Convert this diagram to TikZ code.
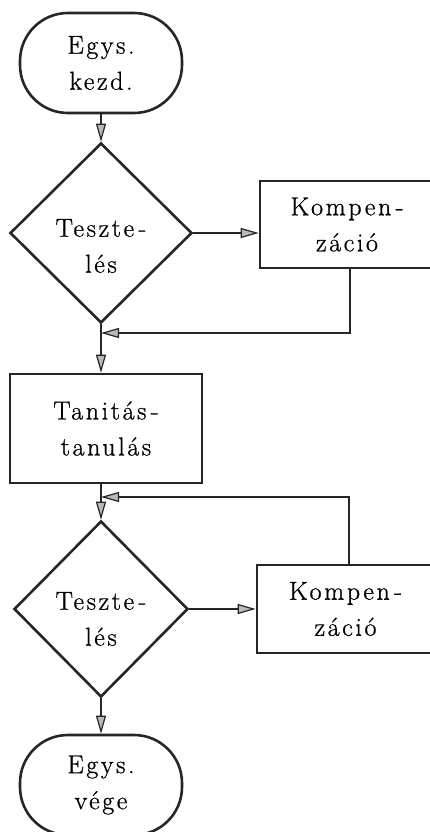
\documentclass[tikz,border=0pt]{standalone}
\usepackage{fontspec}
\newfontfamily\lmsp[LetterSpace=10,FakeBold=0.8]{Latin Modern Roman}
\usetikzlibrary{shapes.geometric,arrows.meta}
\begin{document}
\begin{tikzpicture}[x=1pt,y=-1pt,
  txt/.style={align=center,text=black,font=\lmsp\fontsize{26}{36}\selectfont},
  ln/.style={draw=black!85,line width=2.6pt},
  term/.style={txt,ln,rectangle,rounded corners=48pt,minimum width=162pt,minimum height=100pt,inner sep=0pt},
  proc/.style={txt,ln,rectangle,inner sep=0pt},
  dia/.style={ln,diamond,inner sep=0pt},
  arr/.style={ln,-{Triangle[length=18pt,width=10pt,fill=gray!55,line width=1.2pt]}},
]
\useasboundingbox (0,0) rectangle (430,832);
\clip (0,0) rectangle (430,832);
\fill[white] (0,0) rectangle (430,832);

\node[term] (s) at (101,63) {Egys.\\kezd.};
\node[dia,minimum width=182pt,minimum height=180pt,
      label={[txt,yshift=-13pt]center:{Teszte\,-\\lés}}] (d1) at (101,233) {};
\node[proc,minimum width=174pt,minimum height=87pt] (k1) at (347,224.5) {Kompen\,-\\záció};
\node[proc,minimum width=192pt,minimum height=109pt] (t) at (106,428.5) {Tanitás\,-\\tanulás};
\node[dia,minimum width=174pt,minimum height=176pt,
      label={[txt,yshift=-10pt]center:{Teszte\,-\\lés}}] (d2) at (101,609) {};
\node[proc,minimum width=177pt,minimum height=88pt] (k2) at (345.5,609) {Kompen\,-\\záció};
\node[term] (e) at (101,785) {Egys.\\vége};

\coordinate (j1) at (101,333);
\coordinate (j2) at (101,497);
\coordinate (c1) at (350,0);
\coordinate (c2) at (349,0);

\draw[arr] (s.south) -- (d1.north);
\draw[arr] (d1.east) -- (k1.west |- d1.east);
\draw[arr] (k1.south -| c1) |- (j1);
\draw[arr] (d1.south) -- (t.north -| d1.south);
\draw[arr] (t.south -| d2.north) -- (d2.north);
\draw[arr] (k2.north -| c2) |- (j2);
\draw[arr] (d2.east) -- (k2.west);
\draw[arr] (d2.south) -- (e.north);
\end{tikzpicture}
\end{document}
